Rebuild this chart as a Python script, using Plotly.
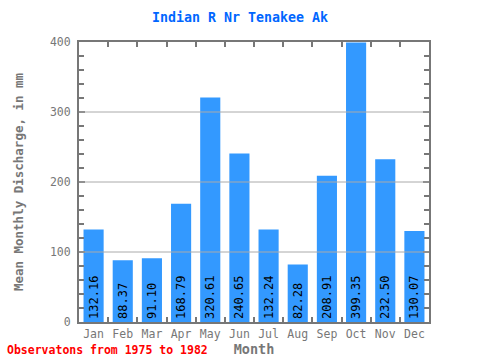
import plotly.graph_objects as go

months = ["Jan", "Feb", "Mar", "Apr", "May", "Jun", "Jul", "Aug", "Sep", "Oct", "Nov", "Dec"]
discharge = [132.16, 88.37, 91.10, 168.79, 320.61, 240.65, 132.24, 82.28, 208.91, 399.35, 232.50, 130.07]
y_ticks = [0, 100, 200, 300, 400]
grid_values = [100, 200, 300]

FONT = "DejaVu Sans Mono"
AX = "#777777"

fig = go.Figure(go.Bar(
    x=months, y=discharge,
    marker=dict(color="#3399FF", line=dict(width=0)),
    text=[f"{v:.2f}" for v in discharge],
    textposition="inside", insidetextanchor="start", textangle=-90,
    textfont=dict(family=FONT, size=12, color="black"),
    cliponaxis=False,
))

for g in grid_values:
    fig.add_shape(type="line", xref="paper", x0=0, x1=1, yref="y", y0=g, y1=g,
                  line=dict(color="#AAAAAA", width=1), layer="above")

fig.update_layout(
    width=480, height=360,
    margin=dict(l=79, r=51, t=42, b=38, autoexpand=False),
    paper_bgcolor="white", plot_bgcolor="white",
    bargap=0.31,
    showlegend=False,
    title=dict(text="<b>Indian R Nr Tenakee Ak</b>", x=0.5, xanchor="center", y=0.952, yanchor="middle",
               font=dict(family=FONT, size=13.3, color="#0066FF")),
    xaxis=dict(
        automargin=False, tickangle=0,
        showline=True, linecolor=AX, linewidth=2, mirror="allticks",
        ticks="inside", tickson="boundaries", ticklen=5, tickcolor=AX, tickwidth=2,
        showgrid=False,
        tickfont=dict(family=FONT, size=11.5, color=AX),
        title=dict(text="<b>Month</b>", font=dict(family=FONT, size=13.5, color=AX), standoff=1),
    ),
    yaxis=dict(
        automargin=False,
        range=[0, 400], tickvals=y_ticks,
        showline=True, linecolor=AX, linewidth=2, mirror="allticks",
        ticks="inside", ticklen=6, tickcolor=AX, tickwidth=2,
        ticklabelstandoff=4,
        minor=dict(dtick=20, ticks="inside", ticklen=5, tickcolor=AX, tickwidth=2, showgrid=False),
        showgrid=False, zeroline=False,
        tickfont=dict(family=FONT, size=11.5, color=AX),
        title=dict(text="<b>Mean Monthly Discharge, in mm</b>", font=dict(family=FONT, size=12.5, color=AX), standoff=24),
    ),
    annotations=[dict(text="<b>Observatons from 1975 to 1982</b>", xref="paper", yref="paper",
                      x=-74/350, y=-0.068, xanchor="left", yanchor="top", showarrow=False,
                      font=dict(family=FONT, size=11.5, color="red"))],
)

fig.write_html("out.html", config={"displayModeBar": False},
               post_script="document.body.style.margin='0';document.body.style.overflow='hidden';")
